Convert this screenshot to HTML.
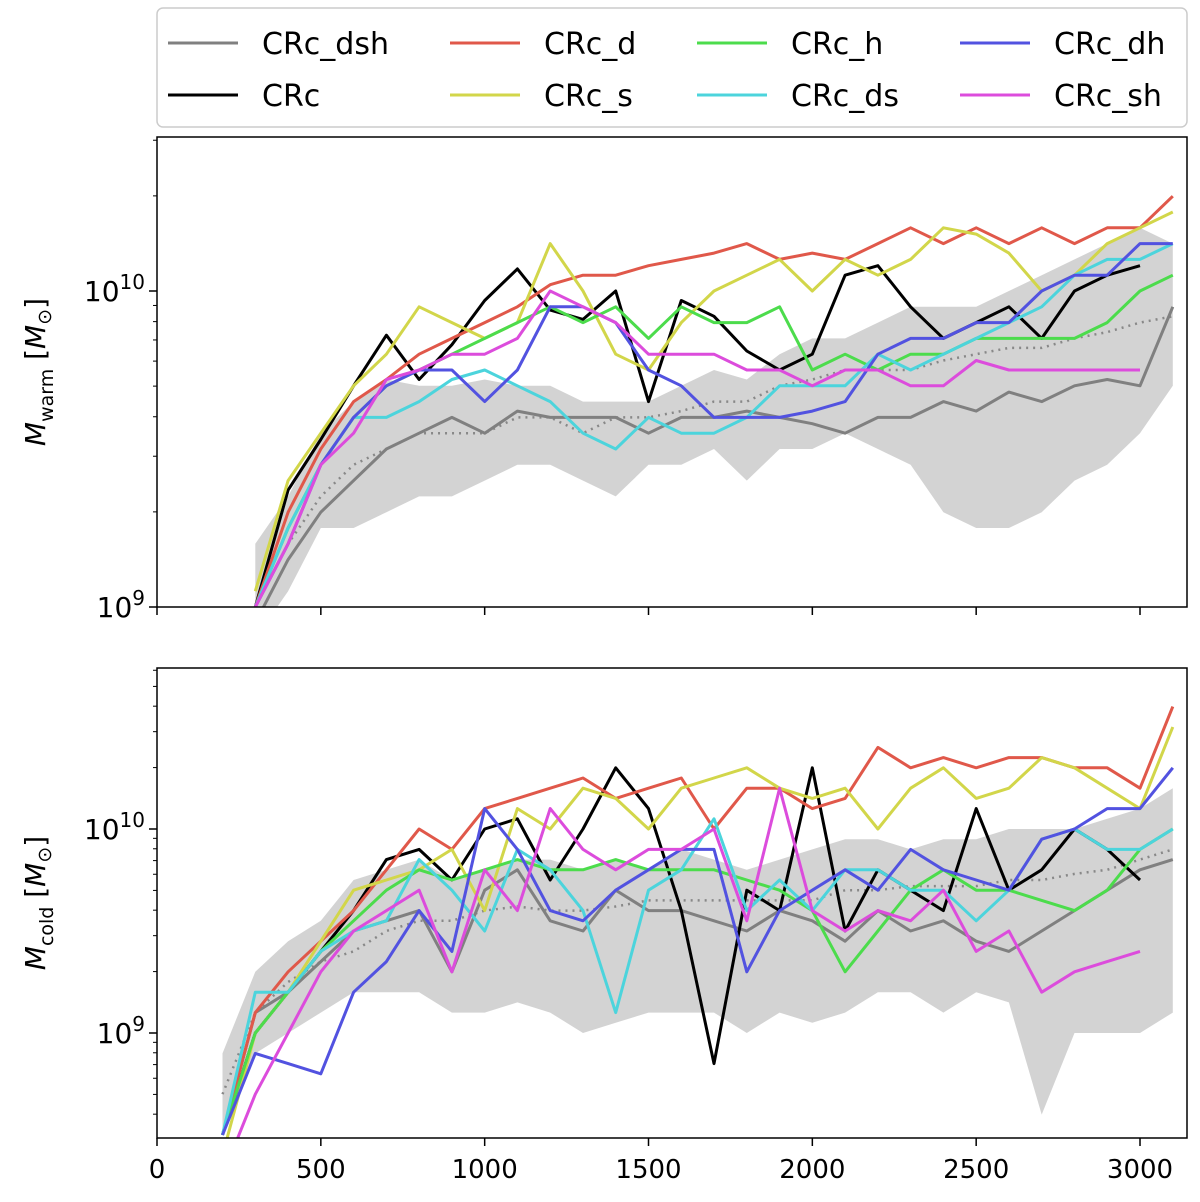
<!DOCTYPE html>
<html><head><meta charset="utf-8"><style>
body{margin:0;background:#fff;}
svg{display:block;font-family:"DejaVu Sans","Liberation Sans",sans-serif;}
</style></head><body>
<svg id="c" width="1200" height="1202" xmlns="http://www.w3.org/2000/svg"></svg>
<script>
const tTop=[300,400,500,600,700,800,900,1000,1100,1200,1300,1400,1500,1600,1700,1800,1900,2000,2100,2200,2300,2400,2500,2600,2700,2800,2900,3000,3100];
const tBot=[200,300,400,500,600,700,800,900,1000,1100,1200,1300,1400,1500,1600,1700,1800,1900,2000,2100,2200,2300,2400,2500,2600,2700,2800,2900,3000,3100];
const seriesNames=["CRc_dsh","CRc","CRc_d","CRc_s","CRc_h","CRc_ds","CRc_dh","CRc_sh"];
const seriesColors=["#808080","#000000","#e0584a","#d2d64a","#4cdc4c","#4cd4dc","#5252e0","#dc4cdc"];
const warmDsh=[8.95,9.15,9.3,9.4,9.5,9.55,9.6,9.55,9.62,9.6,9.6,9.6,9.55,9.6,9.6,9.62,9.6,9.58,9.55,9.6,9.6,9.65,9.62,9.68,9.65,9.7,9.72,9.7,9.95];
const warmCRc=[9.0,9.37,9.53,9.7,9.86,9.72,9.83,9.97,10.07,9.94,9.91,10.0,9.65,9.97,9.92,9.81,9.75,9.8,10.05,10.08,9.95,9.85,9.9,9.95,9.85,10.0,10.05,10.08,null];
const warmD=[9.0,9.3,9.5,9.65,9.72,9.8,9.85,9.9,9.95,10.02,10.05,10.05,10.08,10.1,10.12,10.15,10.1,10.12,10.1,10.15,10.2,10.15,10.2,10.15,10.2,10.15,10.2,10.2,10.3];
const warmS=[9.05,9.4,9.55,9.7,9.8,9.95,9.9,9.85,9.9,10.15,10.0,9.8,9.75,9.9,10.0,10.05,10.1,10.0,10.1,10.05,10.1,10.2,10.18,10.12,10.0,10.05,10.15,10.2,10.25];
const warmH=[9.0,9.25,9.45,9.6,9.7,9.75,9.8,9.85,9.9,9.95,9.9,9.95,9.85,9.95,9.9,9.9,9.95,9.75,9.8,9.75,9.8,9.8,9.85,9.85,9.85,9.85,9.9,10.0,10.05];
const warmDs=[9.0,9.25,9.45,9.6,9.6,9.65,9.72,9.75,9.7,9.65,9.55,9.5,9.6,9.55,9.55,9.6,9.7,9.7,9.7,9.8,9.75,9.8,9.85,9.9,9.95,10.05,10.1,10.1,10.15];
const warmDh=[9.0,9.2,9.45,9.6,9.7,9.75,9.75,9.65,9.75,9.95,9.95,9.9,9.75,9.7,9.6,9.6,9.6,9.62,9.65,9.8,9.85,9.85,9.9,9.9,10.0,10.05,10.05,10.15,10.15];
const warmSh=[9.0,9.2,9.45,9.55,9.72,9.75,9.8,9.8,9.85,10.0,9.95,9.9,9.8,9.8,9.8,9.75,9.75,9.7,9.75,9.75,9.7,9.7,9.78,9.75,9.75,9.75,9.75,9.75,null];
const warmLow=[8.9,9.05,9.25,9.25,9.3,9.35,9.35,9.4,9.45,9.45,9.4,9.35,9.45,9.45,9.5,9.4,9.5,9.5,9.55,9.5,9.45,9.3,9.25,9.25,9.3,9.4,9.45,9.55,9.7];
const warmHigh=[9.2,9.35,9.55,9.65,9.72,9.7,9.7,9.72,9.7,9.7,9.65,9.65,9.65,9.7,9.75,9.72,9.8,9.85,9.85,9.9,9.95,9.95,9.95,10.0,10.05,10.1,10.15,10.2,10.15];
const warmMed=[9.0,9.2,9.35,9.45,9.5,9.55,9.55,9.55,9.6,9.6,9.55,9.6,9.6,9.62,9.65,9.65,9.7,9.72,9.75,9.75,9.75,9.78,9.8,9.82,9.82,9.85,9.87,9.9,9.92];
const coldDsh=[8.5,9.1,9.2,9.35,9.5,9.55,9.6,9.3,9.7,9.8,9.55,9.5,9.7,9.6,9.6,9.55,9.5,9.6,9.55,9.45,9.6,9.5,9.55,9.45,9.4,9.5,9.6,9.7,9.8,9.85];
const coldCRc=[8.5,9.0,9.2,9.4,9.6,9.85,9.9,9.75,10.0,10.05,9.75,10.0,10.3,10.1,9.6,8.85,9.7,9.6,10.3,9.5,9.8,9.7,9.6,10.1,9.7,9.8,10.0,9.9,9.75,null];
const coldD=[8.5,9.1,9.3,9.45,9.6,9.8,10.0,9.9,10.1,10.15,10.2,10.25,10.15,10.2,10.25,10.0,10.2,10.2,10.1,10.15,10.4,10.3,10.35,10.3,10.35,10.35,10.3,10.3,10.2,10.6];
const coldS=[8.4,9.0,9.2,9.45,9.7,9.75,9.8,9.9,9.6,10.1,10.0,10.2,10.15,10.0,10.2,10.25,10.3,10.2,10.15,10.2,10.0,10.2,10.3,10.15,10.2,10.35,10.3,10.2,10.1,10.5];
const coldH=[8.5,9.0,9.2,9.4,9.55,9.7,9.8,9.75,9.8,9.85,9.8,9.8,9.85,9.8,9.8,9.8,9.75,9.7,9.6,9.3,9.5,9.7,9.8,9.7,9.7,9.65,9.6,9.7,9.9,10.0];
const coldDs=[8.5,9.2,9.2,9.4,9.5,9.55,9.85,9.7,9.5,9.9,9.8,9.6,9.1,9.7,9.8,10.05,9.6,9.75,9.6,9.8,9.8,9.7,9.7,9.55,9.7,9.95,10.0,9.9,9.9,10.0];
const coldDh=[8.5,8.9,8.85,8.8,9.2,9.35,9.6,9.4,10.1,9.9,9.6,9.55,9.7,9.8,9.9,9.9,9.3,9.6,9.7,9.8,9.7,9.9,9.8,9.75,9.7,9.95,10.0,10.1,10.1,10.3];
const coldSh=[8.3,8.7,9.0,9.3,9.5,9.6,9.7,9.3,9.8,9.6,10.1,9.9,9.8,9.9,9.9,10.0,9.55,10.2,9.6,9.5,9.6,9.55,9.7,9.4,9.5,9.2,9.3,9.35,9.4,null];
const coldLow=[8.5,8.9,9.0,9.1,9.2,9.2,9.2,9.1,9.1,9.15,9.1,9.0,9.05,9.1,9.1,9.1,9.0,9.1,9.05,9.1,9.2,9.2,9.1,9.2,9.15,8.6,9.0,9.0,9.0,9.1];
const coldHigh=[8.9,9.3,9.45,9.55,9.75,9.8,9.85,9.75,9.8,9.85,9.85,9.8,9.85,9.8,9.9,9.85,9.8,9.85,9.9,9.95,9.95,9.9,9.95,9.95,10.0,10.0,10.0,10.05,10.1,10.2];
const coldMed=[8.7,9.1,9.25,9.35,9.4,9.5,9.55,9.55,9.6,9.62,9.6,9.6,9.62,9.65,9.65,9.65,9.65,9.65,9.65,9.7,9.7,9.72,9.72,9.72,9.75,9.75,9.78,9.8,9.85,9.9];
const xTicks=[0,500,1000,1500,2000,2500,3000];

const NS="http://www.w3.org/2000/svg";
const svg=document.getElementById('c');
function mk(tag,attrs,parent){const e=document.createElementNS(NS,tag);for(const k in attrs)e.setAttribute(k,attrs[k]);(parent||svg).appendChild(e);return e;}
const X0=157,X1=1187;
const xs=v=>157+v*0.32767;
const panels=[
 {name:"warm",top:137,bot:607,ymin:9.0,ymax:10.487,y10:291,dec:316,t:tTop,series:[warmDsh,warmCRc,warmD,warmS,warmH,warmDs,warmDh,warmSh],low:warmLow,high:warmHigh,med:warmMed},
 {name:"cold",top:668,bot:1138,ymin:8.485,ymax:10.79,y10:829,dec:204,t:tBot,series:[coldDsh,coldCRc,coldD,coldS,coldH,coldDs,coldDh,coldSh],low:coldLow,high:coldHigh,med:coldMed}
];
panels.forEach((p,pi)=>{
 const ys=v=>p.y10-(v-10)*p.dec;
 const cp=mk('clipPath',{id:'cp'+pi});
 mk('rect',{x:X0,y:p.top,width:X1-X0,height:p.bot-p.top},cp);
 const g=mk('g',{'clip-path':'url(#cp'+pi+')'});
 
 
 let d='';
 p.t.forEach((t,i)=>{d+=(i?'L':'M')+xs(t).toFixed(1)+','+ys(p.high[i]).toFixed(1);});
 for(let i=p.t.length-1;i>=0;i--)d+='L'+xs(p.t[i]).toFixed(1)+','+ys(p.low[i]).toFixed(1);
 const band=mk('path',{d:d+'Z',fill:'#d3d3d3'},g);
 
 
 const line=(arr,col,w,dash,name)=>{let s='',pen=false;arr.forEach((v,i)=>{if(v===null){pen=false;return;}s+=(pen?'L':'M')+xs(p.t[i]).toFixed(1)+','+ys(v).toFixed(1);pen=true;});
  const e=mk('path',{d:s,fill:'none',stroke:col,'stroke-width':w,'stroke-linejoin':'round'},g);if(dash)e.setAttribute('stroke-dasharray',dash);
  
  };
 line(p.med,'#888',2.5,'2 5',p.name+'-median-line');
 p.series.forEach((arr,si)=>line(arr,seriesColors[si],3,null,p.name+'-line-'+seriesNames[si].toLowerCase().replace('_','-')));
 const fr=mk('rect',{x:X0,y:p.top,width:X1-X0,height:p.bot-p.top,fill:'none',stroke:'#000','stroke-width':1.5});
 
 
 xTicks.forEach(v=>{mk('line',{x1:xs(v),x2:xs(v),y1:p.bot,y2:p.bot+8,stroke:'#000','stroke-width':1.5});
  if(pi===1){const tx=mk('text',{x:xs(v),y:1178,'text-anchor':'middle','font-size':26});tx.textContent=v;
   
   }});
 for(let e=8;e<=10;e++)for(let m=1;m<10;m++){const lv=e+Math.log10(m);if(lv<p.ymin-0.001||lv>p.ymax)continue;const y=ys(lv);
  mk('line',{x1:X0-(m===1?8:4),x2:X0,y1:y,y2:y,stroke:'#000','stroke-width':m===1?1.5:1});
  if(m===1){const tx=mk('text',{x:X0-12,y:y+10,'text-anchor':'end','font-size':28});tx.innerHTML='10<tspan dy="-12" font-size="20">'+e+'</tspan>';
   
   }}
 const ty=mk('text',{transform:'translate(45,'+((p.top+p.bot)/2)+') rotate(-90)','text-anchor':'middle','font-size':28});
 ty.innerHTML='<tspan font-style="italic">M</tspan><tspan dy="8" font-size="19">'+p.name+'</tspan><tspan dy="-8"> [</tspan><tspan font-style="italic">M</tspan><tspan dy="6" font-size="19">⊙</tspan><tspan dy="-6">]</tspan>';
 
 
});
const lg=mk('g',{});


mk('rect',{x:157,y:8,width:1030,height:119,rx:6,fill:'#fff',stroke:'#ccc','stroke-width':1.5},lg);
const colX=[168,450,697,960];
seriesNames.forEach((n,i)=>{const c=Math.floor(i/2),r=i%2;const y=r?95:43;
 const e=mk('g',{},lg);
 
 
 mk('line',{x1:colX[c],x2:colX[c]+70,y1:y,y2:y,stroke:seriesColors[i],'stroke-width':3},e);
 const tx=mk('text',{x:colX[c]+94,y:y+11,'font-size':30},e);tx.textContent=n;});
</script>
</body></html>
